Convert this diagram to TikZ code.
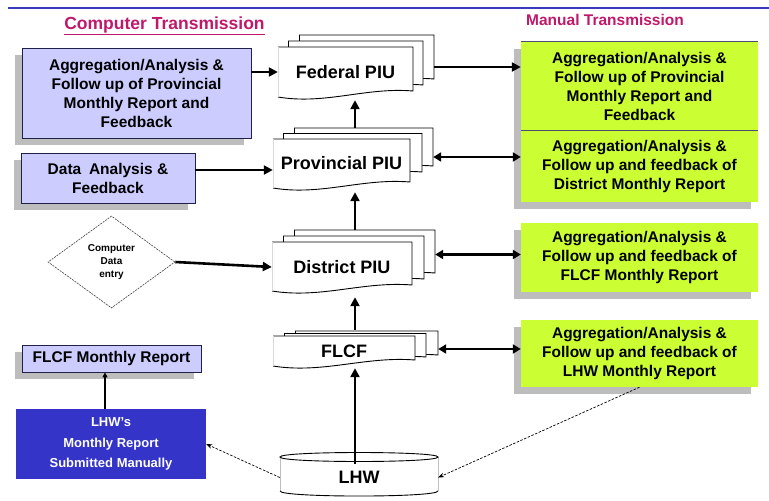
\documentclass[tikz,border=0pt]{standalone}
\usepackage{fontspec}
\setmainfont{Liberation Sans}
\usetikzlibrary{arrows.meta,shapes.geometric,fit}
\definecolor{lav}{HTML}{CCCCFF}
\definecolor{lime}{HTML}{CCFF33}
\definecolor{shad}{HTML}{BDBDBD}
\definecolor{navy}{HTML}{20204A}
\definecolor{royal}{HTML}{3434C8}
\definecolor{magen}{HTML}{C0186A}
\definecolor{topblue}{HTML}{3A3ABF}
\newcommand{\docbody}[5][black]{%
  \fill[white] (#2,#3) -- (#4,#3) -- (#4,{#5-6}) .. controls ({#2+0.65*(#4-#2)},{#5-10}) and ({#2+0.35*(#4-#2)},{#5+8}) .. (#2,#5) -- cycle;
  \draw[docline] (#2,#5) .. controls ({#2+0.35*(#4-#2)},{#5+8}) and ({#2+0.65*(#4-#2)},{#5-10}) .. (#4,{#5-6}) -- (#4,#3) -- (#2,#3);
  \draw[docline,#1] (#2,#3) -- (#2,#5);
}
\begin{document}
\begin{tikzpicture}[x=1pt,y=-1pt,
  docline/.style={line width=0.9pt, black},
  box/.style={inner sep=0pt, align=center, font=\bfseries\fontsize{15.5}{19}\selectfont},
  lavbox/.style={box, fill=lav, draw=navy, line width=0.8pt,
     preaction={fill=shad, transform canvas={xshift=-7pt,yshift=-7pt}}},
  greenbox/.style={box, fill=lime,
     preaction={fill=shad, transform canvas={xshift=-7pt,yshift=-7pt}}},
  pius/.style={font=\bfseries\fontsize{18}{20}\selectfont},
  arr/.style={line width=2.6pt, -{Triangle[length=9pt,width=9pt]}},
  darr/.style={line width=2.6pt, {Triangle[length=8pt,width=9pt]}-{Triangle[length=8pt,width=9pt]}},
  thinarr/.style={line width=1.4pt, -{Triangle[length=5pt,width=5pt]}},
  dasharr/.style={line width=0.7pt, dash pattern=on 2.5pt off 1.5pt, -{Stealth[length=6pt,width=4.5pt]}}
]
\useasboundingbox (0,0) rectangle (769,501);
\fill[white] (0,0) rectangle (769,501);

% top rule and titles
\draw[topblue, line width=2pt] (8,8) -- (769,8);
\node[font=\bfseries\fontsize{17.5}{20}\selectfont, text=magen] (ct) at (164.5,26) {\underline{Computer Transmission}};
\node[font=\bfseries\fontsize{15.5}{18}\selectfont, text=magen] (mt) at (605,20) {Manual Transmission};

% left boxes
\node[lavbox, minimum width=229pt, minimum height=90pt] (lav1) at (136.5,93)
  {Aggregation/Analysis \&\\Follow up of Provincial\\Monthly Report and\\Feedback};
\node[lavbox, minimum width=174pt, minimum height=50pt] (lav2) at (108,178)
  {Data\hspace{0.5em}Analysis \&\\Feedback};
\node[diamond, draw=black!75, dash pattern=on 2pt off 1pt, line width=0.6pt,
  minimum width=127pt, minimum height=92pt, inner sep=0pt, aspect=1.38,
  align=center, font=\bfseries\fontsize{10}{13}\selectfont] (dia) at (111.5,262) {Computer\\Data\\entry};
\node[lavbox, minimum width=179pt, minimum height=27pt] (lav3) at (111.5,358.5) {FLCF Monthly Report};
\node[box, fill=royal, text=white, minimum width=190pt, minimum height=70pt,
  font=\bfseries\fontsize{13}{20.5}\selectfont] (blue) at (111,444)
  {LHW's\\Monthly Report\\Submitted Manually};

% right boxes
\node[greenbox, minimum width=237pt, minimum height=89pt] (g1) at (639.5,86.5)
  {Aggregation/Analysis \&\\Follow up of Provincial\\Monthly Report and\\Feedback};
\node[greenbox, minimum width=237pt, minimum height=71pt] (g2) at (639.5,166.5)
  {Aggregation/Analysis \&\\Follow up and feedback of\\District Monthly Report};
\draw[navy!80, line width=0.8pt] (g1.north west) -- (g1.north east);
\draw[navy!80, line width=0.8pt] (g2.north west) -- (g2.north east);
\node[greenbox, minimum width=237pt, minimum height=69pt] (g3) at (639.5,257.5)
  {Aggregation/Analysis \&\\Follow up and feedback of\\FLCF Monthly Report};
\node[greenbox, minimum width=237pt, minimum height=67pt] (g4) at (639.5,353.5)
  {Aggregation/Analysis \&\\Follow up and feedback of\\LHW Monthly Report};

% document stacks
\docbody{299}{35}{434}{85}
\docbody{288}{41}{423}{91}
\docbody[gray!30]{278}{47}{413}{97}
\node[fit={(299,35) (434,85)}, inner sep=0pt] (fed3) {};
\node[fit={(278,47) (413,97)}, inner sep=0pt, label={[pius]center:Federal PIU}] (fed) {};

\docbody{294}{128}{433}{172}
\docbody{283}{133.5}{422}{178}
\docbody[gray!30]{273}{139}{410}{188}
\node[fit={(294,128) (433,172)}, inner sep=0pt] (prov3) {};
\node[fit={(273,139) (410,188)}, inner sep=0pt, label={[pius]center:Provincial PIU}] (prov) {};

\docbody{294}{230}{435}{279}
\docbody{283}{236}{424}{285}
\docbody[gray!30]{272}{242}{412}{291}
\node[fit={(294,230) (435,279)}, inner sep=0pt] (dist3) {};
\node[fit={(272,242) (412,292)}, inner sep=0pt, label={[pius]center:District PIU}] (dist) {};

\docbody{295}{331}{438}{361}
\docbody{284}{333.5}{426}{363}
\docbody[gray!30]{273}{336}{415}{366}
\node[fit={(295,331) (438,361)}, inner sep=0pt] (flcf3) {};
\node[fit={(273,336) (415,366)}, inner sep=0pt, label={[pius]center:FLCF}] (flcf) {};

% LHW cylinder
\fill[white] (280,457) -- (438,457) -- (438,491) .. controls (438,497.7) and (280,497.7) .. (280,491) -- cycle;
\draw[gray!50, line width=0.7pt] (280,457) -- (280,491) (438,457) -- (438,491);
\draw[docline] (280,491) .. controls (280,497.7) and (438,497.7) .. (438,491);
\draw[docline] (280,457) .. controls (280,451) and (438,451) .. (438,457) .. controls (438,463) and (280,463) .. cycle;
\node[fit={(280,458) (438,497)}, inner sep=0pt, label={[pius]center:LHW}] (lhw) {};

% connectors
\coordinate (vx) at (355,0);
\draw[arr] (fed.west -| lav1.east) -- (fed.west);
\draw[arr] ([yshift=-7pt]fed3.east) -- ([yshift=-7pt]fed3.east -| g1.west);
\draw[arr] ([yshift=-6.5pt]prov.west -| lav2.east) -- ([yshift=-6.5pt]prov.west);
\draw[arr] (dia.east) -- (dist.west);
\draw[darr] ([yshift=-7pt]prov3.east) -- ([yshift=-7pt]prov3.east -| g2.west);
\draw[darr] (dist3.east) -- (dist3.east -| g3.west);
\draw[darr] ([yshift=-3pt]flcf3.east) -- ([yshift=-3pt]flcf3.east -| g4.west);
\draw[arr, shorten >=3pt] (prov3.north -| vx) -- (fed.south -| vx);
\draw[arr, shorten >=4pt] (dist3.north -| vx) -- (prov.south -| vx);
\draw[arr, shorten >=5pt] ([yshift=1pt]flcf3.north -| vx) -- (dist.south -| vx);
\draw[arr, shorten >=2pt] ([yshift=-6pt]lhw.north -| vx) -- (flcf.south -| vx);
\draw[thinarr] ([xshift=-6pt]blue.north) -- ([xshift=-6pt]blue.north |- lav3.south);
\draw[dasharr] (lhw.west) -- (blue.east);
\draw[dasharr] (g4.south) -- (lhw.east);
\end{tikzpicture}
\end{document}
